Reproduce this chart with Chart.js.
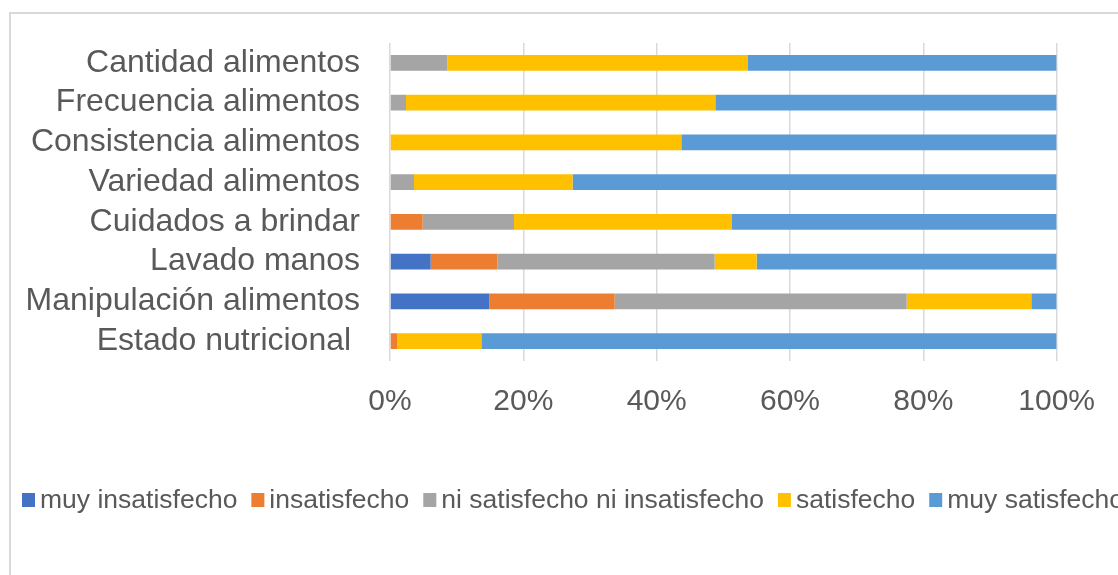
<!DOCTYPE html>
<html>
<head>
<meta charset="utf-8">
<script src="https://cdn.jsdelivr.net/npm/chart.js@4.4.1/dist/chart.umd.min.js"></script>
<style>
  html, body { margin: 0; padding: 0; background: #fff; overflow: hidden; }
  #frame { position: absolute; left: 9px; top: 12px; width: 1300px; height: 800px; border: 2px solid #d9d9d9; }
  #myChart { position: absolute; left: 0; top: 0; }
</style>
</head>
<body>
<div id="frame"></div>
<canvas id="myChart" width="1118" height="575"></canvas>
<script>
var categories = ['Cantidad alimentos', 'Frecuencia alimentos', 'Consistencia alimentos', 'Variedad alimentos',
                  'Cuidados a brindar', 'Lavado manos', 'Manipulación alimentos', 'Estado nutricional '];

var seriesNames = ['muy insatisfecho', 'insatisfecho', 'ni satisfecho ni insatisfecho', 'satisfecho', 'muy satisfecho'];
var seriesColors = ['#4472C4', '#ED7D31', '#A5A5A5', '#FFC000', '#5B9BD5'];

// percent of answers per category
var muyInsatisfecho = [0, 0, 0, 0, 0, 6.1, 14.9, 0];
var insatisfecho    = [0, 0, 0, 0, 4.9, 10.0, 18.8, 1.1];
var niNi            = [8.6, 2.4, 0, 3.6, 13.7, 32.6, 43.8, 0];
var satisfecho      = [45.1, 46.4, 43.7, 23.8, 32.7, 6.3, 18.7, 12.6];
var muySatisfecho   = [46.3, 51.2, 56.3, 72.6, 48.7, 45.0, 3.8, 86.3];

var xTicks = [0, 20, 40, 60, 80, 100];

var seriesValues = [muyInsatisfecho, insatisfecho, niNi, satisfecho, muySatisfecho];
var FONT = '"Liberation Sans", Arial, sans-serif';
var TEXT = '#595959';

// legend on one row at the bottom, left aligned
var bottomLegend = {
    id: 'bottomLegend',
    afterDraw: function(chart) {
        var ctx = chart.ctx;
        ctx.save();
        ctx.font = '26.5px ' + FONT;
        ctx.textBaseline = 'middle';
        ctx.textAlign = 'left';
        var x = 22, y = 500;
        chart.data.datasets.forEach(function(ds) {
            ctx.fillStyle = ds.backgroundColor;
            ctx.fillRect(x, y - 7, 13, 14);
            ctx.fillStyle = TEXT;
            ctx.fillText(ds.label, x + 18, y + 1);
            x += 18 + ctx.measureText(ds.label).width + 14;
        });
        ctx.restore();
    }
};

var ctx = document.getElementById('myChart').getContext('2d');

var graphData = {
    type: 'bar',
    data: {
        labels: categories,
        datasets: seriesNames.map(function(name, i) {
            return {
                label: name,
                data: seriesValues[i],
                backgroundColor: seriesColors[i],
                borderWidth: 0,
                categoryPercentage: 1,
                barPercentage: 0.4
            };
        })
    },
    options: {
        indexAxis: 'y',
        responsive: false,
        animation: false,
        devicePixelRatio: 1,
        layout: { padding: { top: 43, right: 61, bottom: 157, left: 0 } },
        plugins: {
            legend: { display: false },
            tooltip: { enabled: false }
        },
        scales: {
            x: {
                stacked: true,
                min: 0,
                max: 100,
                afterBuildTicks: function(scale) {
                    scale.ticks = xTicks.map(function(v) { return { value: v }; });
                },
                afterFit: function(scale) { scale.height = 57; },
                ticks: {
                    padding: 23,
                    maxRotation: 0,
                    color: TEXT,
                    font: { family: FONT, size: 30 },
                    callback: function(v) { return v + '%'; }
                },
                grid: { color: '#d9d9d9', lineWidth: 1.5, drawTicks: false },
                border: { display: false }
            },
            y: {
                stacked: true,
                afterFit: function(scale) {
                    scale.width = 390;
                    scale.paddingTop = 0;
                    scale.paddingBottom = 0;
                },
                ticks: {
                    autoSkip: false,
                    padding: 30,
                    color: TEXT,
                    font: { family: FONT, size: 32 }
                },
                grid: { display: false, drawTicks: false },
                border: { display: false }
            }
        }
    },
    plugins: [bottomLegend]
};

var myChart = new Chart(ctx, graphData);
</script>
</body>
</html>
